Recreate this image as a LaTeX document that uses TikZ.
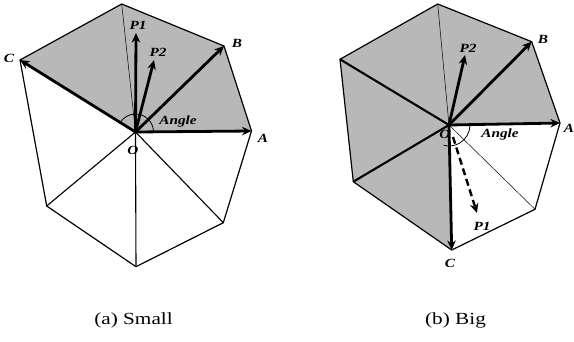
\documentclass[tikz,border=0pt]{standalone}
\usepackage{fontspec}
\setmainfont{Liberation Serif}
\usetikzlibrary{arrows.meta,calc}
\newcommand{\wlbl}[1]{\scalebox{1.22}[1]{#1}}
\newcommand{\wcap}[1]{\scalebox{1.25}[1]{#1}}
\begin{document}
\begin{tikzpicture}[x=1pt,y=-1pt,
  edge/.style={line width=1.2pt, line join=round},
  thinspoke/.style={line width=0.5pt},
  midspoke/.style={line width=1.1pt},
  boldspoke/.style={line width=2.1pt},
  vec/.style={line width=2.8pt, -{Stealth[length=9.5pt,width=8.5pt]}},
  dvec/.style={line width=2.4pt, dash pattern=on 7pt off 4pt, -{Stealth[length=9.5pt,width=8.5pt]}},
  lbl/.style={font=\fontsize{12.5}{12.5}\selectfont\bfseries\itshape, inner sep=1pt},
  captext/.style={font=\fontsize{17}{17}\selectfont, inner sep=1pt},
  anglearc/.style={line width=0.8pt}]
\useasboundingbox (0,0) rectangle (574,341);
% ---------- (a) ----------
\coordinate (O1) at (135.5,132);
\coordinate (A1) at (251.5,131);
\coordinate (B1) at (224,46);
\coordinate (T1) at (121.7,4);
\coordinate (C1) at (20,60);
\coordinate (L1) at (46.7,206);
\coordinate (D1) at (136,266.7);
\coordinate (R1) at (223.3,222.7);
\coordinate (P1a) at (136,33);
\coordinate (P2a) at (154,60);
\fill[black!28] (O1) -- (A1) -- (B1) -- (T1) -- (C1) -- cycle;
\draw[edge] (A1) -- (B1) -- (T1) -- (C1) -- (L1) -- (D1) -- (R1) -- cycle;
\draw[thinspoke] (O1) -- (T1);
\draw[midspoke] (O1) -- (L1);
\draw[midspoke] (O1) -- (D1);
\draw[midspoke] (O1) -- (R1);
\draw[anglearc] ($(O1)+(18,0)$) arc[start angle=0, end angle=-148, radius=18];
\draw[vec] (O1) -- (A1);
\draw[vec] (O1) -- (B1);
\draw[vec] (O1) -- (C1);
\draw[vec] (O1) -- (P1a);
\draw[vec] (O1) -- (P2a);
\node[lbl] (la1) at (263,138) {\wlbl{A}};
\node[lbl] (lb1) at (237,43) {\wlbl{B}};
\node[lbl] (lc1) at (9,58) {\wlbl{C}};
\node[lbl] (lo1) at (133,150) {\wlbl{O}};
\node[lbl] (lp11) at (138,25) {\wlbl{P1}};
\node[lbl] (lp21) at (158,52) {\wlbl{P2}};
\node[lbl] (lang1) at (178,121) {\wlbl{Angle}};
\node[captext] (capa) at (133.5,320) {\wcap{(a) Small}};
% ---------- (b) ----------
\coordinate (O2) at (449,125);
\coordinate (A2) at (560,123);
\coordinate (B2) at (531.7,41.7);
\coordinate (T2) at (437.7,4);
\coordinate (U2) at (340,59.3);
\coordinate (L2) at (353.3,181.7);
\coordinate (C2) at (451.7,250);
\coordinate (R2) at (535,209.3);
\coordinate (P2b) at (465,55);
\coordinate (P1b) at (477,213);
\coordinate (O2s) at (453,137);
\fill[black!28] (O2) -- (A2) -- (B2) -- (T2) -- (U2) -- (L2) -- (C2) -- cycle;
\draw[edge] (A2) -- (B2) -- (T2) -- (U2) -- (L2) -- (C2) -- (R2) -- cycle;
\draw[thinspoke] (O2) -- (T2);
\draw[thinspoke] (O2) -- (R2);
\draw[boldspoke] (O2) -- (U2);
\draw[boldspoke] (O2) -- (L2);
\draw[anglearc] ($(O2)+(21,0)$) arc[start angle=0, end angle=105, radius=21];
\draw[vec] (O2) -- (A2);
\draw[vec] (O2) -- (B2);
\draw[vec] (O2) -- (C2);
\draw[vec] (O2) -- (P2b);
\draw[dvec] (O2s) -- (P1b);
\node[lbl] (la2) at (569,128) {\wlbl{A}};
\node[lbl] (lb2) at (543,39) {\wlbl{B}};
\node[lbl] (lc2) at (450,263) {\wlbl{C}};
\node[lbl] (lo2) at (445,134) {\wlbl{O}};
\node[lbl] (lp12) at (482,226) {\wlbl{P1}};
\node[lbl] (lp22) at (468,48) {\wlbl{P2}};
\node[lbl] (lang2) at (500,134) {\wlbl{Angle}};
\node[captext] (capb) at (455.5,320) {\wcap{(b) Big}};
\end{tikzpicture}
\end{document}
